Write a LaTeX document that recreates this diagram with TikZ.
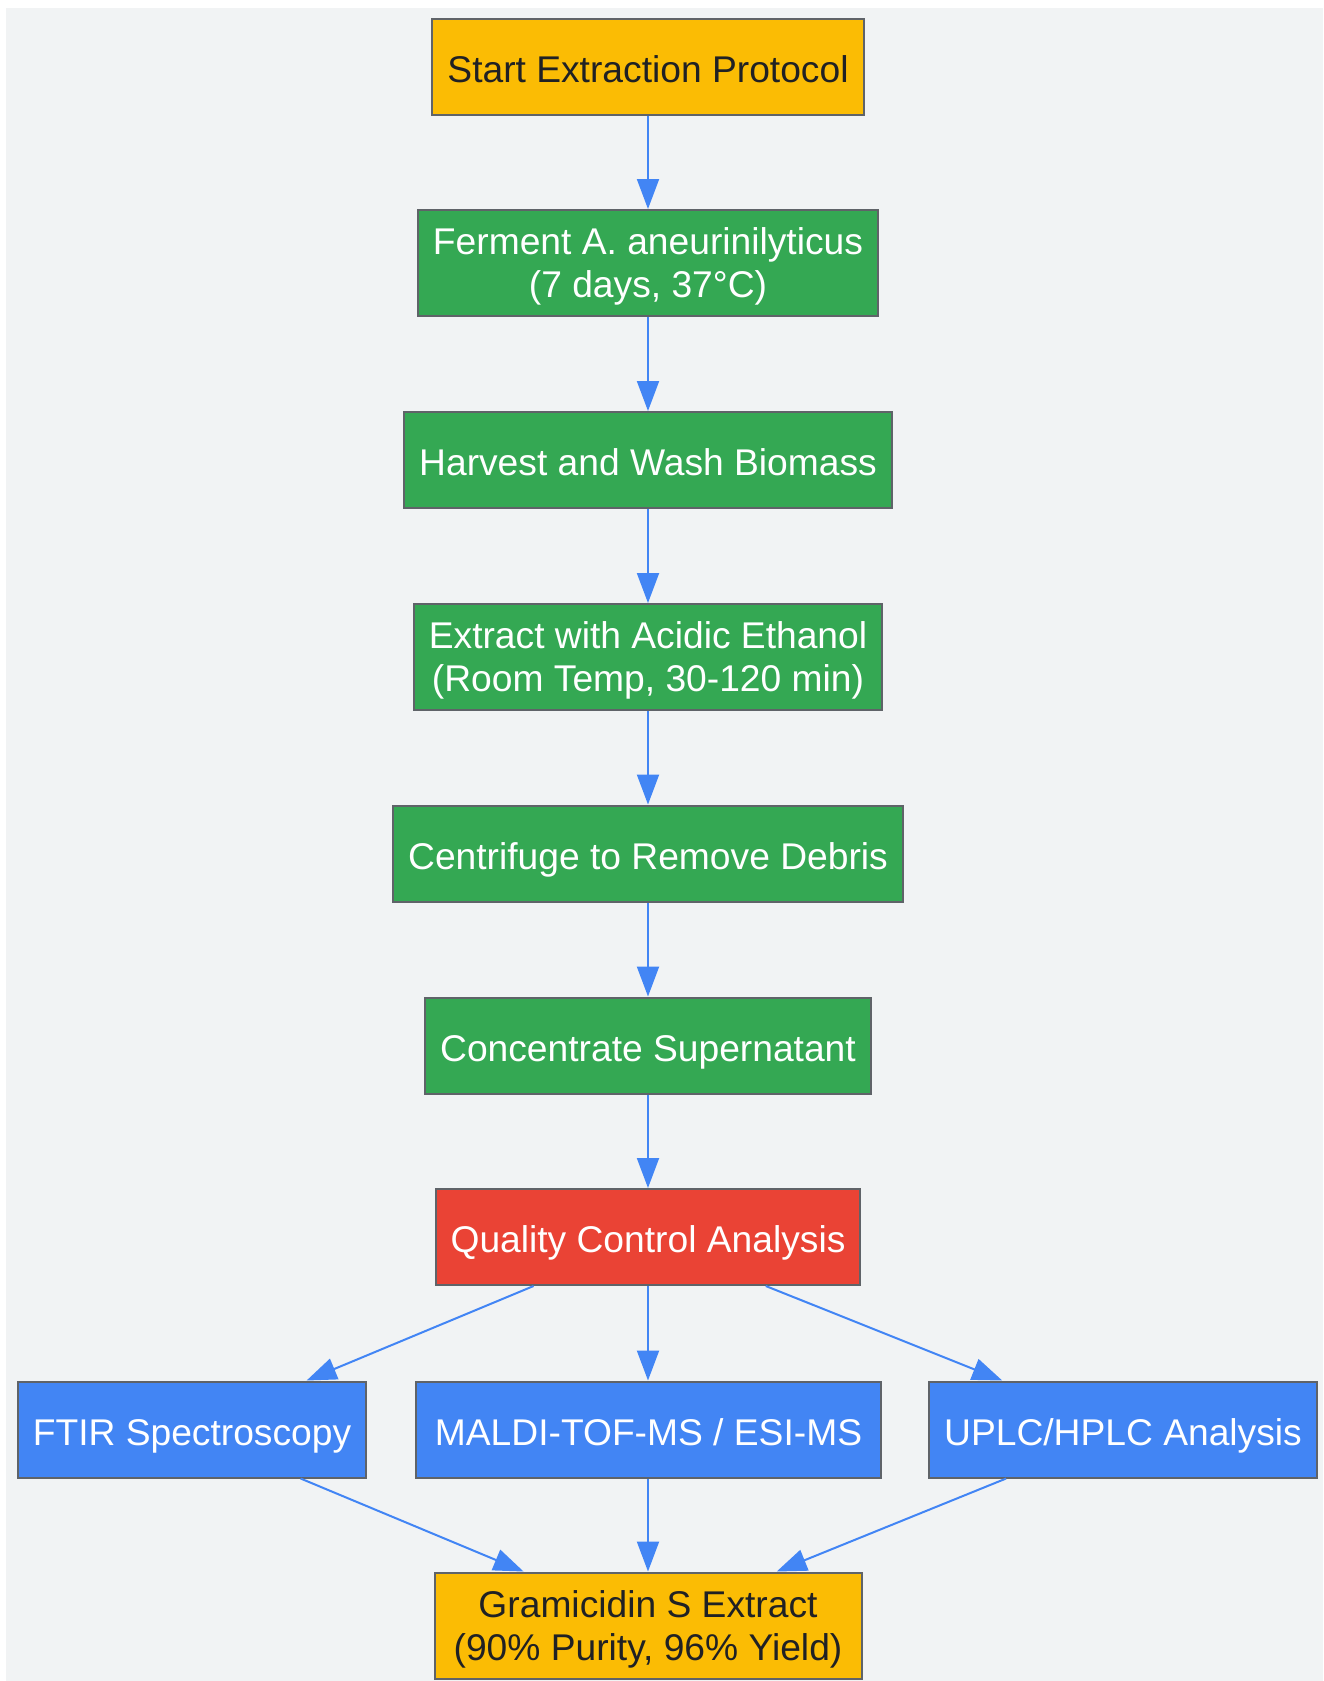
\documentclass[tikz,border=0pt]{standalone}
\usepackage{fontspec}
\setmainfont{Liberation Sans}
\usetikzlibrary{arrows.meta,calc}

\definecolor{bggray}{HTML}{F1F3F4}
\definecolor{boxline}{HTML}{5F6368}
\definecolor{gyellow}{HTML}{FBBC04}
\definecolor{ggreen}{HTML}{34A853}
\definecolor{gred}{HTML}{EA4335}
\definecolor{gblue}{HTML}{4285F4}
\definecolor{darktext}{HTML}{202124}

\tikzset{
  stepbox/.style={draw=boxline, line width=1pt, rectangle, align=center,
    inner xsep=7.5pt, inner ysep=2pt, minimum height=48pt,
    font=\fontsize{18.6}{21.5}\selectfont},
  oneline/.style={text height=15.5pt, text depth=0pt},
  twoline/.style={minimum height=53pt, text depth=-3.2pt},
  endbox/.style={stepbox, fill=gyellow, text=darktext},
  procbox/.style={stepbox, fill=ggreen, text=white},
  qcbox/.style={stepbox, fill=gred, text=white},
  testbox/.style={stepbox, fill=gblue, text=white},
  flow/.style={draw=gblue, line width=1pt, -{Triangle[length=15pt,width=11pt]}}
}

\begin{document}
\begin{tikzpicture}[x=0.5pt,y=-0.5pt]
			\useasboundingbox (0,0) rectangle (1323,1681);
			\fill[bggray] (6,8) rectangle (1323,1681);
			% main line
			\node[endbox,oneline] (start) at (648,66.5) {Start Extraction Protocol};
			\node[procbox,twoline] (ferment) at (648,263) {Ferment A. aneurinilyticus\\(7 days, 37°C)};
			\node[procbox,oneline] (harvest) at (648,460) {Harvest and Wash Biomass};
			\node[procbox,twoline] (extract) at (648,657) {Extract with Acidic Ethanol\\(Room Temp, 30-120 min)};
			\node[procbox,oneline] (centrifuge) at (648,853.5) {Centrifuge to Remove Debris};
			\node[procbox,oneline] (concentrate) at (648,1045.5) {Concentrate Supernatant};
			\node[qcbox,oneline] (qc) at (648,1237) {Quality Control Analysis};
			% tests
			\node[testbox,oneline] (ftir) at (192,1429.5) {FTIR Spectroscopy};
			\node[testbox,oneline,minimum width=232.5pt] (maldi) at (648.5,1429.5) {MALDI-TOF-MS / ESI-MS};
			\node[testbox,oneline] (uplc) at (1123,1429.5) {UPLC/HPLC Analysis};
			\node[endbox,twoline,minimum width=213.5pt] (product) at (648,1625.5) {Gramicidin S Extract\\(90\% Purity, 96\% Yield)};
			\draw[flow] (start) -- (ferment);
			\draw[flow] (ferment) -- (harvest);
			\draw[flow] (harvest) -- (extract);
			\draw[flow] (extract) -- (centrifuge);
			\draw[flow] (centrifuge) -- (concentrate);
			\draw[flow] (concentrate) -- (qc);
			\draw[flow] ($(qc.south west)!0.232!(qc.south east)$) -- ($(ftir.north west)!0.827!(ftir.north east)$);
			\draw[flow] (qc.south) -- (qc.south |- maldi.north);
			\draw[flow] ($(qc.south west)!0.776!(qc.south east)$) -- ($(uplc.north west)!0.19!(uplc.north east)$);
			\draw[flow] ($(ftir.south west)!0.81!(ftir.south east)$) -- ($(product.north west)!0.21!(product.north east)$);
			\draw[flow] (maldi.south -| product.north) -- (product.north);
			\draw[flow] ($(uplc.south west)!0.20!(uplc.south east)$) -- ($(product.north west)!0.80!(product.north east)$);
		\end{tikzpicture}
\end{document}
